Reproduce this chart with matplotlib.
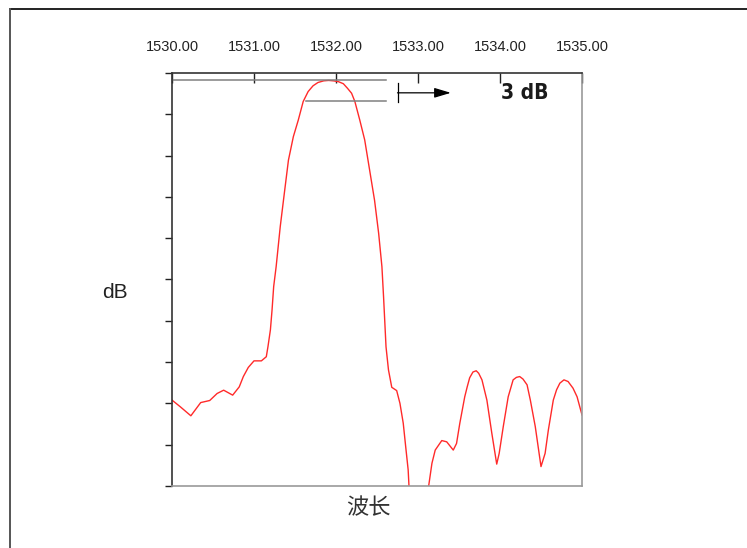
import matplotlib.pyplot as plt
from matplotlib.lines import Line2D

plt.rcParams["font.family"] = ["Liberation Sans", "Noto Sans CJK SC", "DejaVu Sans"]

# wavelength (nm) and relative level (one y tick = 1 unit)
wavelength = [
    1530.00, 1530.10, 1530.23, 1530.35, 1530.46, 1530.55, 1530.63, 1530.74,
    1530.82, 1530.87, 1530.93, 1531.00, 1531.09, 1531.15, 1531.17, 1531.20,
    1531.22, 1531.24, 1531.27, 1531.32, 1531.37, 1531.42, 1531.48, 1531.54,
    1531.60, 1531.66, 1531.72, 1531.78, 1531.85, 1531.91, 1531.97, 1532.03,
    1532.09, 1532.14, 1532.19, 1532.23, 1532.29, 1532.35, 1532.41, 1532.47,
    1532.52, 1532.56, 1532.58, 1532.61, 1532.64, 1532.68, 1532.74, 1532.78,
    1532.82, 1532.85, 1532.88, 1532.89, 1533.01, 1533.13, 1533.17, 1533.21,
    1533.29, 1533.35, 1533.43, 1533.47, 1533.51, 1533.57, 1533.60, 1533.63,
    1533.67, 1533.71, 1533.74, 1533.78, 1533.84, 1533.90, 1533.96, 1533.99,
    1534.04, 1534.10, 1534.16, 1534.20, 1534.24, 1534.28, 1534.33, 1534.37,
    1534.43, 1534.50, 1534.55, 1534.59, 1534.65, 1534.69, 1534.73, 1534.78,
    1534.83, 1534.89, 1534.94, 1535.00,
]
level = [
    2.08, 1.92, 1.70, 2.02, 2.07, 2.24, 2.32, 2.20,
    2.40, 2.65, 2.87, 3.03, 3.03, 3.13, 3.37, 3.78,
    4.26, 4.83, 5.31, 6.28, 7.09, 7.89, 8.46, 8.86,
    9.31, 9.55, 9.69, 9.77, 9.81, 9.82, 9.81, 9.79,
    9.74, 9.63, 9.51, 9.31, 8.86, 8.38, 7.65, 6.92,
    6.12, 5.31, 4.58, 3.37, 2.81, 2.39, 2.31, 2.00,
    1.52, 0.95, 0.39, 0.00, -1.20, 0.00, 0.55, 0.87,
    1.10, 1.07, 0.87, 1.03, 1.52, 2.16, 2.40, 2.62,
    2.76, 2.79, 2.73, 2.57, 2.08, 1.28, 0.53, 0.79,
    1.44, 2.16, 2.57, 2.63, 2.65, 2.59, 2.45, 2.08,
    1.44, 0.47, 0.79, 1.36, 2.08, 2.33, 2.49, 2.57,
    2.53, 2.37, 2.16, 1.72,
]

x_ticks = [1530, 1531, 1532, 1533, 1534, 1535]
x_tick_labels = ["1530.00", "1531.00", "1532.00", "1533.00", "1534.00", "1535.00"]
y_ticks = list(range(11))

peak_level = 9.83
minus3db_level = 9.33

fig = plt.figure(figsize=(7.47, 5.48), dpi=100)
ax = fig.add_axes([172 / 747, 1 - 486 / 548, 410 / 747, 413 / 548])

ax.plot(wavelength, level, color="#ff2a2a", lw=1.0, clip_on=True)

# 3 dB reference lines
ax.plot([1530.0, 1532.61], [peak_level, peak_level], color="#808080", lw=1.1)
ax.plot([1531.63, 1532.61], [minus3db_level, minus3db_level], color="#808080", lw=1.1)

# bracket + arrow
ax.plot([1532.75, 1532.75], [9.29, 9.76], color="black", lw=0.9)
ax.annotate("", xy=(1533.40, 9.52), xytext=(1532.75, 9.52),
            arrowprops=dict(arrowstyle="-|>,head_length=1.0,head_width=0.3",
                            color="black", lw=0.9, shrinkA=0, shrinkB=0))
ax.text(1534.30, 9.52, "3 dB", ha="center", va="center", fontsize=15,
        fontweight="bold", fontstretch="condensed", family="DejaVu Sans",
        color="#1a1a1a")

ax.set_xlim(1530, 1535)
ax.set_ylim(0, 10)

ax.set_xticks(x_ticks)
ax.set_xticklabels(x_tick_labels)
ax.xaxis.tick_top()
ax.tick_params(axis="x", direction="in", length=7, width=1, pad=14,
               labelsize=10.5, colors="#222222")
ax.set_yticks(y_ticks)
ax.set_yticklabels([])
ax.tick_params(axis="y", direction="out", length=5, width=1, colors="#222222")

for side in ["top", "left"]:
    ax.spines[side].set_color("#333333")
    ax.spines[side].set_linewidth(1.2)
for side in ["right", "bottom"]:
    ax.spines[side].set_color("#999999")
    ax.spines[side].set_linewidth(1.2)

fig.text(115 / 747, 1 - 293 / 548, "dB", ha="center", va="center",
         fontsize=15, color="#222222")
fig.text(368 / 747, 1 - 508 / 548, "波长", ha="center", va="center",
         fontsize=16, color="#333333",
         family=["Noto Sans CJK SC", "DejaVu Sans"])

# outer frame (top and left edges)
fig.add_artist(Line2D([9.5 / 747, 1], [1 - 8.5 / 548, 1 - 8.5 / 548],
                      color="#222222", lw=1.4))
fig.add_artist(Line2D([9.5 / 747, 9.5 / 747], [0, 1 - 8.5 / 548],
                      color="#555555", lw=1.4))

fig.savefig("out.png", dpi=100)
plt.close(fig)
